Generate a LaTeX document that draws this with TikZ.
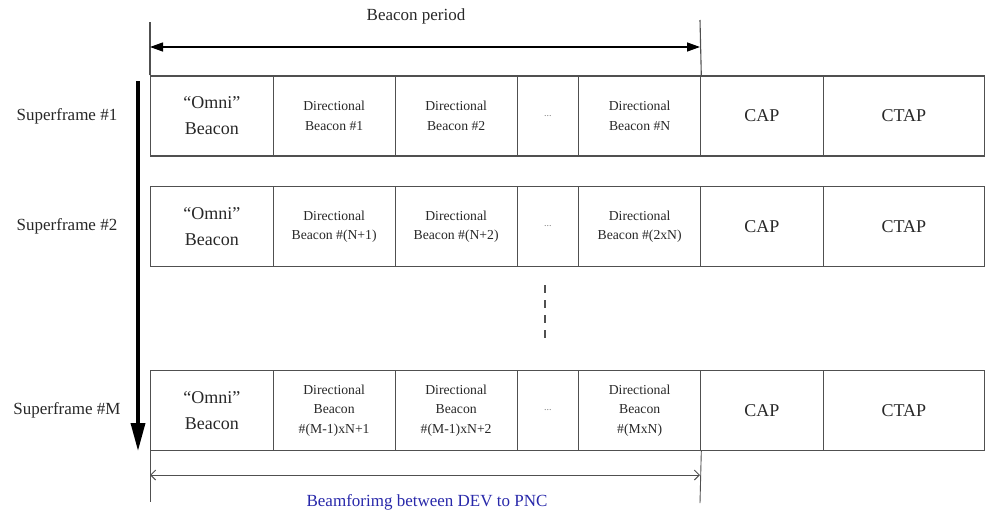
\documentclass[tikz,border=0pt]{standalone}
\usepackage{fontspec}
\setmainfont{Liberation Serif}
\usetikzlibrary{arrows.meta}
\definecolor{framegray}{RGB}{80,80,80}
\definecolor{inkgray}{RGB}{40,40,40}
\definecolor{noteblue}{RGB}{40,40,170}

% One superframe: omni beacon, directional beacons, CAP and CTAP
\newcommand\beaconrow[5]{%
  \node[cell,big,minimum width=122.5pt] (#1omni) at (150,#2) {“Omni”\\Beacon};
  \node[cell,small,minimum width=122pt] (#1dirA) at (272.5,#2) {#3};
  \node[cell,small,minimum width=122pt] (#1dirB) at (394.5,#2) {#4};
  \node[cell,dots,minimum width=61.5pt] (#1more) at (516.5,#2) {...};
  \node[cell,small,minimum width=122pt] (#1dirN) at (578,#2) {#5};
  \node[cell,big,minimum width=122.5pt] (#1cap) at (700,#2) {CAP};
  \node[cell,big,minimum width=161.5pt] (#1ctap) at (822.5,#2) {CTAP};
}

\begin{document}
\begin{tikzpicture}[x=1pt,y=-1pt,
  cell/.style={draw=framegray, line width=1.3pt, minimum height=80pt,
    inner sep=1pt, align=center, text=inkgray, anchor=west},
  big/.style={font=\fontsize{18}{26}\selectfont},
  small/.style={font=\fontsize{13.7}{19.5}\selectfont},
  dots/.style={font=\fontsize{10}{12}\selectfont, text=gray},
  rowlabel/.style={font=\fontsize{17}{20}\selectfont, text=inkgray},
  guide/.style={draw=framegray, line width=1.1pt},
]
\useasboundingbox (0,0) rectangle (985,512);

% superframe rows
\beaconrow{r1}{116}{Directional\\Beacon \#1}{Directional\\Beacon \#2}{Directional\\Beacon \#N}
\beaconrow{r2}{226.5}{Directional\\Beacon \#(N+1)}{Directional\\Beacon \#(N+2)}{Directional\\Beacon \#(2xN)}
\beaconrow{rM}{410.5}{Directional\\Beacon\\\#(M-1)xN+1}{Directional\\Beacon\\\#(M-1)xN+2}{Directional\\Beacon\\\#(MxN)}

% row labels
\node[rowlabel] (sf1) at (67,116) {Superframe \#1};
\node[rowlabel] (sf2) at (67,226.5) {Superframe \#2};
\node[rowlabel] (sfM) at (67,410.5) {Superframe \#M};

% time axis across superframes
\coordinate (sftop) at (138,81);
\coordinate (sfbot) at (138,451);
\draw[black, line width=3.5pt, -{Triangle[length=28pt,width=14pt]}] (sftop) -- (sfbot);

% beacon period
\coordinate (bpLtop) at (150,22);
\coordinate (bpRtop) at (700,20);
\coordinate (bpL) at (150,47);
\coordinate (bpR) at (700,47);
\draw[guide] (r1omni.north west) -- (bpLtop);
\draw[guide] (r1dirN.north east) -- (bpRtop);
\draw[black, line width=1.3pt, {Triangle[length=13pt,width=9pt]}-{Triangle[length=13pt,width=9pt]}] (bpL) -- (bpR);
\node[rowlabel] (bptext) at (416,16) {Beacon period};

% rows omitted between #2 and #M
\coordinate (gapA) at (545,285);
\coordinate (gapB) at (545,343);
\draw[draw=framegray, line width=1.2pt, dash pattern=on 8pt off 7pt] (gapA) -- (gapB);

% beamforming span
\coordinate (bfLbot) at (150,502);
\coordinate (bfRbot) at (700,503);
\coordinate (bfL) at (150,475);
\coordinate (bfR) at (700,475);
\draw[guide, line width=0.9pt] (rMomni.south west) -- (bfLbot);
\draw[guide, line width=0.9pt] (rMdirN.south east) -- (bfRbot);
\draw[draw=framegray, line width=1pt, {Straight Barb[length=5pt,width=10pt]}-{Straight Barb[length=5pt,width=10pt]}] (bfL) -- (bfR);
\node[font=\fontsize{17}{20}\selectfont, text=noteblue] (bftext) at (427,502.5) {Beamforimg between DEV to PNC};
\end{tikzpicture}
\end{document}
